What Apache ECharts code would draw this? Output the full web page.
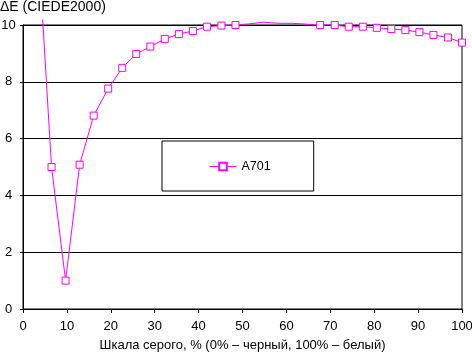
<!DOCTYPE html>
<html>
<head>
<meta charset="utf-8">
<script src="https://cdn.jsdelivr.net/npm/echarts@6/dist/echarts.min.js"></script>
<style>
html,body{margin:0;padding:0;background:#fff;}
#chart{width:472px;height:352px;}
</style>
</head>
<body>
<div id="chart"></div>
<script>
// gray level, % (0% black, 100% white)
const grayLevels = [3.2, 6.5, 9.7, 12.9, 16.1, 19.4, 22.6, 25.8, 29.0, 32.3, 35.5,
    38.7, 41.9, 45.2, 48.4, 51.6, 54.8, 58.1, 61.3, 64.5, 67.7, 71.0, 74.2, 77.4,
    80.6, 83.9, 87.1, 90.3, 93.5, 96.8, 100];
// delta E (CIEDE2000) for A701
const deltaE = [13.5, 5.0, 1.0, 5.08, 6.81, 7.76, 8.49, 8.98, 9.24, 9.51, 9.68,
    9.79, 9.94, 9.98, 10.0, 10.04, 10.1, 10.06, 10.06, 10.03, 10.0, 10.0, 9.94, 9.94,
    9.9, 9.86, 9.82, 9.75, 9.65, 9.56, 9.38];
// points drawn without a marker in the original
const unmarkedLevels = [51.6, 54.8, 58.1, 61.3, 64.5];

const xMin = 0, xMax = 100, xStep = 10;
const yMin = 0, yMax = 10, yStep = 2;

const FONT = '"Liberation Sans", Arial, sans-serif';
const MAGENTA = '#ff00ff';

// plot box (axes grid) and a slightly taller box for the line, so it is clipped a bit above 10
const plotLeft = 23, plotRight = 10, plotTop = 25, plotBottom = 43;
const lineTop = 20;
const plotH = 352 - plotTop - plotBottom;
const lineH = 352 - lineTop - plotBottom;
const lineYMax = yMax * lineH / plotH;

const chart = echarts.init(document.getElementById('chart'));
chart.setOption({
    animation: false,
    backgroundColor: '#fff',
    textStyle: {fontFamily: FONT, color: '#000'},
    title: {
        text: 'ΔE (CIEDE2000)',
        left: 0, top: 0, padding: 0,
        textStyle: {fontFamily: FONT, fontSize: 14, fontWeight: 'normal', color: '#000'}
    },
    legend: {
        data: ['A701'],
        left: 162, top: 141,
        padding: [19, 43, 18, 47],
        backgroundColor: '#fff',
        borderColor: '#000', borderWidth: 1, borderRadius: 0,
        itemWidth: 27, itemHeight: 9.5,
        lineStyle: {width: 1, color: MAGENTA},
        textStyle: {fontFamily: FONT, fontSize: 12.5, color: '#000'},
        selectedMode: false
    },
    grid: [{
        left: plotLeft, right: plotRight, top: plotTop, bottom: plotBottom,
        outerBoundsMode: 'none', containLabel: false,
        show: true, borderColor: '#000', borderWidth: 1
    }, {
        left: plotLeft, right: plotRight, top: lineTop, bottom: plotBottom,
        outerBoundsMode: 'none', containLabel: false
    }],
    xAxis: [{
        gridIndex: 0, type: 'value', min: xMin, max: xMax, interval: xStep,
        name: 'Шкала серого, % (0% – черный, 100% – белый)',
        nameLocation: 'middle', nameGap: 30,
        nameTextStyle: {fontFamily: FONT, fontSize: 13, color: '#000'},
        axisLine: {lineStyle: {color: '#000', width: 1}},
        axisTick: {show: true, length: 4, lineStyle: {color: '#000'}},
        axisLabel: {fontFamily: FONT, fontSize: 13, color: '#000', margin: 11},
        splitLine: {show: false}
    }, {
        gridIndex: 1, type: 'value', min: xMin, max: xMax, show: false
    }],
    yAxis: [{
        gridIndex: 0, type: 'value', min: yMin, max: yMax, interval: yStep,
        axisLine: {show: true, lineStyle: {color: '#000', width: 1}},
        axisTick: {show: true, length: 3, lineStyle: {color: '#000'}},
        axisLabel: {fontFamily: FONT, fontSize: 13, color: '#000', margin: 14.5, align: 'center'},
        splitLine: {show: true, lineStyle: {color: '#000', width: 1}}
    }, {
        gridIndex: 1, type: 'value', min: yMin, max: lineYMax, show: false
    }],
    series: [{
        name: 'A701',
        type: 'line',
        xAxisIndex: 1, yAxisIndex: 1,
        data: grayLevels.map((x, i) => ({
            value: [x, deltaE[i]],
            symbol: unmarkedLevels.includes(x) ? 'none' : 'rect'
        })),
        symbol: 'rect',
        symbolSize: 7,
        itemStyle: {color: '#fff', borderColor: MAGENTA, borderWidth: 1},
        lineStyle: {color: MAGENTA, width: 1},
        emphasis: {disabled: true}
    }]
});
</script>
</body>
</html>
